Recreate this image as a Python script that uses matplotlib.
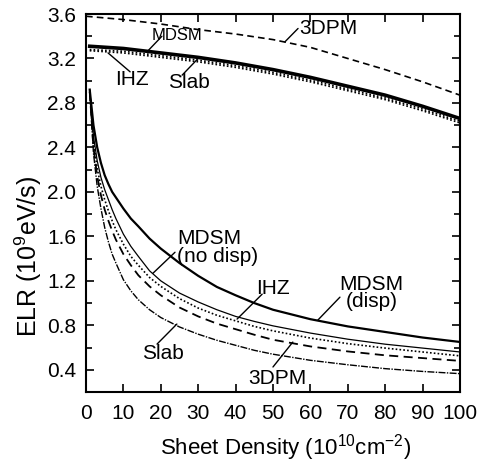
import matplotlib
matplotlib.use("Agg")
import matplotlib.pyplot as plt
from matplotlib.ticker import MultipleLocator

plt.rcParams['font.family'] = ['Liberation Sans', 'DejaVu Sans']
plt.rcParams['mathtext.fontset'] = 'custom'
plt.rcParams['mathtext.rm'] = 'Liberation Sans'

# upper group (top of the plot)
x_top = [1, 10, 20, 30, 40, 50, 60, 70, 80, 90, 100]
x_top_dpm = [0, 10, 20, 30, 40, 50, 60, 70, 80, 90, 100]
top_mdsm = [3.31, 3.29, 3.25, 3.21, 3.16, 3.10, 3.03, 2.95, 2.87, 2.77, 2.66]
top_ihz = [3.28, 3.265, 3.225, 3.185, 3.135, 3.075, 3.005, 2.925, 2.845, 2.745, 2.635]
top_slab = [3.27, 3.25, 3.21, 3.17, 3.12, 3.06, 2.99, 2.91, 2.83, 2.73, 2.62]
top_3dpm = [3.58, 3.55, 3.51, 3.46, 3.42, 3.37, 3.30, 3.20, 3.10, 2.99, 2.87]

# lower group
x_low = [1, 2, 3, 4, 5, 6, 7, 8, 10, 12, 14, 17, 20, 25, 30, 35, 40, 45, 50, 60, 70, 80, 90, 100]
low_mdsm_disp = [2.92, 2.60, 2.40, 2.26, 2.15, 2.07, 2.00, 1.95, 1.85, 1.76, 1.69, 1.58, 1.49, 1.36,
                 1.245, 1.145, 1.07, 1.00, 0.94, 0.855, 0.79, 0.74, 0.69, 0.65]
low_mdsm_nodisp = [2.91, 2.50, 2.28, 2.13, 2.02, 1.93, 1.84, 1.76, 1.62, 1.51, 1.42, 1.29, 1.20, 1.09,
                   1.01, 0.94, 0.88, 0.835, 0.795, 0.73, 0.675, 0.63, 0.595, 0.56]
low_ihz = [2.90, 2.45, 2.21, 2.05, 1.93, 1.83, 1.74, 1.66, 1.53, 1.42, 1.34, 1.23, 1.15, 1.04,
           0.955, 0.89, 0.84, 0.79, 0.75, 0.685, 0.635, 0.595, 0.56, 0.525]
low_3dpm = [2.90, 2.40, 2.14, 1.97, 1.84, 1.74, 1.65, 1.57, 1.44, 1.34, 1.25, 1.15, 1.07, 0.96,
            0.88, 0.815, 0.765, 0.715, 0.67, 0.61, 0.565, 0.53, 0.505, 0.48]
low_slab = [2.92, 2.35, 2.05, 1.85, 1.68, 1.55, 1.44, 1.36, 1.21, 1.11, 1.03, 0.94, 0.87, 0.785,
            0.72, 0.665, 0.62, 0.575, 0.54, 0.485, 0.445, 0.41, 0.385, 0.365]

fig = plt.figure(figsize=(4.79, 4.72), dpi=100)
ax = fig.add_axes([0.1795, 0.1695, 0.7808, 0.8008])

dot = (0, (1, 1.3))
ax.plot(x_top_dpm, top_3dpm, color='black', lw=1.2, linestyle=(0, (4, 2.5)))
ax.plot(x_top, top_slab, color='black', lw=1.2, linestyle=dot)
ax.plot(x_top, top_ihz, color='black', lw=1.2, linestyle=dot)
ax.plot(x_top, top_mdsm, color='black', lw=2.6)

ax.plot(x_low, low_mdsm_disp, color='black', lw=1.6)
ax.plot(x_low, low_mdsm_nodisp, color='black', lw=0.9)
ax.plot(x_low, low_ihz, color='black', lw=1.2, linestyle=dot)
ax.plot(x_low, low_3dpm, color='black', lw=1.3, linestyle=(0, (5, 3)))
ax.plot(x_low, low_slab, color='black', lw=1.0, linestyle=(0, (5, 1, 1, 1)))

ax.set_xlim(0, 100)
ax.set_ylim(0.2, 3.6)
ax.xaxis.set_major_locator(MultipleLocator(10))
ax.yaxis.set_major_locator(MultipleLocator(0.4))
ax.yaxis.set_minor_locator(MultipleLocator(0.2))
ax.yaxis.set_major_formatter(matplotlib.ticker.FormatStrFormatter('%.1f'))
ax.tick_params(which='both', direction='in', top=True, right=True, labelsize=15, width=1.2)
ax.tick_params(which='major', length=6, pad=7)
ax.tick_params(which='minor', length=4)
ax.tick_params(axis='x', pad=9)
for s in ax.spines.values():
    s.set_linewidth(1.5)

ax.set_xlabel(r'Sheet Density (10$^{10}$cm$^{-2}$)', fontsize=16)
ax.set_ylabel(r'ELR (10$^{9}$eV/s)', fontsize=18)
ax.xaxis.set_label_coords(0.535, -0.105)
ax.yaxis.set_label_coords(-0.112, 0.36)

lab = dict(fontsize=15, ha='center', va='center')
leader = dict(arrowstyle='-', color='black', lw=1.0, shrinkA=0, shrinkB=0)

def note(text, tx, ty, p0, p1, **kw):
    ax.annotate('', xy=p0, xytext=p1, arrowprops=leader)
    opts = dict(lab)
    opts.update(kw)
    ax.text(tx, ty, text, **opts)

note('MDSM', 24.3, 3.41, (16.6, 3.27), (20.3, 3.40), fontsize=12)
note('3DPM', 64.7, 3.47, (53.2, 3.35), (56.7, 3.47))
note('IHZ', 12.4, 3.01, (5.9, 3.25), (11.8, 3.08))
note('Slab', 27.4, 2.98, (29.7, 3.19), (25.7, 3.05))

note('MDSM\n(no disp)', 24.3, 1.50, (17.9, 1.268), (23.8, 1.457), ha='left',
     linespacing=0.95)
note('IHZ', 50.1, 1.129, (40.4, 0.856), (47.1, 1.08))
note('MDSM\n(disp)', 76.3, 1.09, (62.0, 0.847), (67.9, 1.053), linespacing=0.85)
note('Slab', 20.7, 0.542, (19.0, 0.631), (24.3, 0.811))
note('3DPM', 51.2, 0.318, (50.0, 0.425), (55.3, 0.649))

fig.savefig('out.png', dpi=100)
